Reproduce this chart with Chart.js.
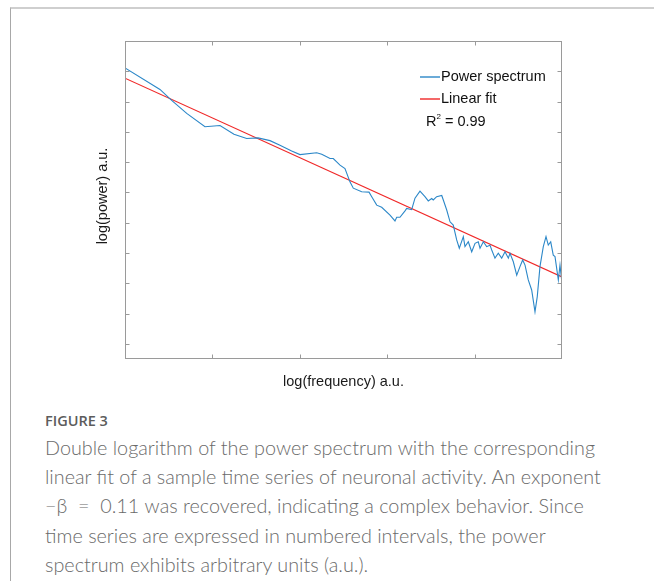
<!DOCTYPE html>
<html>
<head>
<meta charset="utf-8">
<script src="https://cdn.jsdelivr.net/npm/chart.js@4.4.1/dist/chart.umd.min.js"></script>
<style>
  html, body { margin: 0; padding: 0; background: #fff; }
  body { width: 654px; height: 581px; position: relative; overflow: hidden; }
  #card { position: absolute; left: 10px; top: 7px; width: 700px; height: 640px;
          border-top: 2px solid #cfcfcf; border-left: 1px solid #a8a8a8; }
  #chartBox { position: absolute; left: 0; top: 0; width: 654px; height: 400px; }
  #caption { position: absolute; left: 45px; top: 411px; color: #6a6a6a; font-family: Lato, "Open Sans", sans-serif; }
  #figLabel { font-family: "Open Sans", sans-serif; font-weight: 600; font-size: 14.5px; color: #5c5c5c; line-height: 20px; }
  #figText { font-size: 19.8px; font-weight: 300; line-height: 29.2px; white-space: nowrap; margin-top: 2px; }
</style>
</head>
<body>
<div id="card"></div>
<div id="chartBox"><canvas id="c" width="654" height="400"></canvas></div>
<div id="caption">
  <div id="figLabel">FIGURE 3</div>
  <div id="figText">Double logarithm of the power spectrum with the corresponding<br>linear fit of a sample time series of neuronal activity. An exponent<br>−β&nbsp;&nbsp;=&nbsp;&nbsp;0.11 was recovered, indicating a complex behavior. Since<br>time series are expressed in numbered intervals, the power<br>spectrum exhibits arbitrary units (a.u.).</div>
</div>
<script>
// ---- data ----
const freqX = [0, 0.400, 0.534, 0.706, 0.915, 1.087, 1.247, 1.392, 1.522, 1.659, 1.773, 1.907, 2.002, 2.193, 2.251, 2.346, 2.383, 2.460, 2.517, 2.574, 2.612, 2.708, 2.792, 2.823, 2.880, 2.937, 3.032, 3.089, 3.109, 3.146, 3.204, 3.223, 3.280, 3.318, 3.375, 3.432, 3.470, 3.509, 3.527, 3.566, 3.624, 3.642, 3.681, 3.719, 3.756, 3.795, 3.825, 3.871, 3.890, 3.928, 3.967, 4.005, 4.042, 4.062, 4.100, 4.138, 4.176, 4.196, 4.233, 4.271, 4.310, 4.348, 4.386, 4.405, 4.443, 4.482, 4.519, 4.550, 4.577, 4.614, 4.653, 4.691, 4.717, 4.748, 4.786, 4.817, 4.843, 4.871, 4.900, 4.920, 4.958, 4.977, 5.000];
const powerY = [9.11, 8.40, 8.04, 7.61, 7.17, 7.21, 6.92, 6.78, 6.80, 6.71, 6.56, 6.37, 6.25, 6.31, 6.26, 6.12, 6.12, 5.90, 5.79, 5.35, 5.14, 5.02, 5.01, 4.86, 4.58, 4.51, 4.25, 4.06, 4.18, 4.18, 4.39, 4.47, 4.43, 4.81, 5.04, 4.86, 4.72, 4.80, 4.75, 4.86, 4.90, 4.75, 4.42, 4.03, 3.92, 3.43, 3.16, 3.54, 3.21, 3.37, 3.04, 3.32, 3.37, 3.16, 3.37, 3.21, 3.26, 3.10, 2.83, 2.99, 2.83, 3.04, 2.83, 2.99, 2.71, 2.27, 2.55, 2.77, 2.60, 2.11, 1.78, 1.06, 1.56, 2.55, 3.21, 3.54, 3.26, 3.37, 2.93, 2.88, 2.11, 2.60, 2.00];
const fitX = [0, 5];
const fitY = [8.77, 2.21];
const xTickValues = [1, 2, 3, 4];
const yTickValues = [0, 1, 2, 3, 4, 5, 6, 7, 8, 9];
const seriesLabels = ['Power spectrum', 'Linear fit'];
const seriesColors = ['#2b87c8', '#f02828'];
const rSquaredText = '0.99';
const xAxisTitle = 'log(frequency) a.u.';
const yAxisTitle = 'log(power) a.u.';

const toPoints = (xs, ys) => xs.map((x, i) => ({ x: x, y: ys[i] }));

const framePlugin = {
  id: 'matlabFrame',
  afterDatasetsDraw(chart) {
    const ctx = chart.ctx, a = chart.chartArea;
    const xs = chart.scales.x, ys = chart.scales.y;
    ctx.save();
    ctx.strokeStyle = '#9a9a9a';
    ctx.lineWidth = 1;
    const L = Math.round(a.left) + 0.5, R = Math.round(a.right) - 0.5;
    const T = Math.round(a.top) + 0.5, B = Math.round(a.bottom) - 0.5;
    ctx.strokeRect(L, T, R - L, B - T);
    ctx.beginPath();
    const tl = 4;
    xTickValues.forEach(v => {
      const px = Math.round(xs.getPixelForValue(v)) + 0.5;
      ctx.moveTo(px, B); ctx.lineTo(px, B - tl);
      ctx.moveTo(px, T); ctx.lineTo(px, T + tl);
    });
    yTickValues.forEach(v => {
      const py = Math.round(ys.getPixelForValue(v)) + 0.5;
      ctx.moveTo(L, py); ctx.lineTo(L + tl, py);
      ctx.moveTo(R, py); ctx.lineTo(R - tl, py);
    });
    ctx.stroke();

    // axis titles
    ctx.fillStyle = '#1a1a1a';
    ctx.font = '14.5px "Liberation Sans", Arial, sans-serif';
    ctx.textAlign = 'center';
    ctx.textBaseline = 'alphabetic';
    ctx.fillText(xAxisTitle, (a.left + a.right) / 2, 386);
    ctx.save();
    ctx.translate(107, 196);
    ctx.rotate(-Math.PI / 2);
    ctx.fillText(yAxisTitle, 0, 0);
    ctx.restore();

    // legend
    ctx.font = '14.5px "Liberation Sans", Arial, sans-serif';
    ctx.textAlign = 'left';
    ctx.textBaseline = 'middle';
    const ds = chart.data.datasets;
    const lx = 420, lineLen = 20, rows = [77, 99];
    ds.forEach((d, i) => {
      ctx.strokeStyle = seriesColors[i];
      ctx.lineWidth = 1.4;
      ctx.beginPath();
      ctx.moveTo(lx, rows[i]); ctx.lineTo(lx + lineLen, rows[i]);
      ctx.stroke();
      ctx.fillStyle = '#111';
      ctx.fillText(d.label, lx + lineLen + 1, rows[i]);
    });
    ctx.textBaseline = 'alphabetic';
    ctx.fillStyle = '#111';
    ctx.fillText('R', 426, 126);
    const rw = ctx.measureText('R').width;
    ctx.font = '8px "Liberation Sans", Arial, sans-serif';
    ctx.fillText('2', 426 + rw, 119);
    const sw = ctx.measureText('2').width;
    ctx.font = '14.5px "Liberation Sans", Arial, sans-serif';
    ctx.fillText(' = ' + rSquaredText, 426 + rw + sw, 126);
    ctx.restore();
  }
};

new Chart(document.getElementById('c'), {
  type: 'line',
  data: {
    datasets: [
      { label: seriesLabels[0], data: toPoints(freqX, powerY), borderColor: seriesColors[0], borderWidth: 1.1, pointRadius: 0, tension: 0, fill: false },
      { label: seriesLabels[1], data: toPoints(fitX, fitY), borderColor: seriesColors[1], borderWidth: 1.1, pointRadius: 0, tension: 0, fill: false }
    ]
  },
  options: {
    responsive: false,
    animation: false,
    events: [],
    layout: { padding: { left: 125, top: 41, right: 92, bottom: 41 } },
    plugins: { legend: { display: false }, tooltip: { enabled: false } },
    scales: {
      x: { type: 'linear', min: 0, max: 5, display: false },
      y: { type: 'linear', min: -0.5, max: 10, display: false }
    }
  },
  plugins: [framePlugin]
});
</script>
</body>
</html>
